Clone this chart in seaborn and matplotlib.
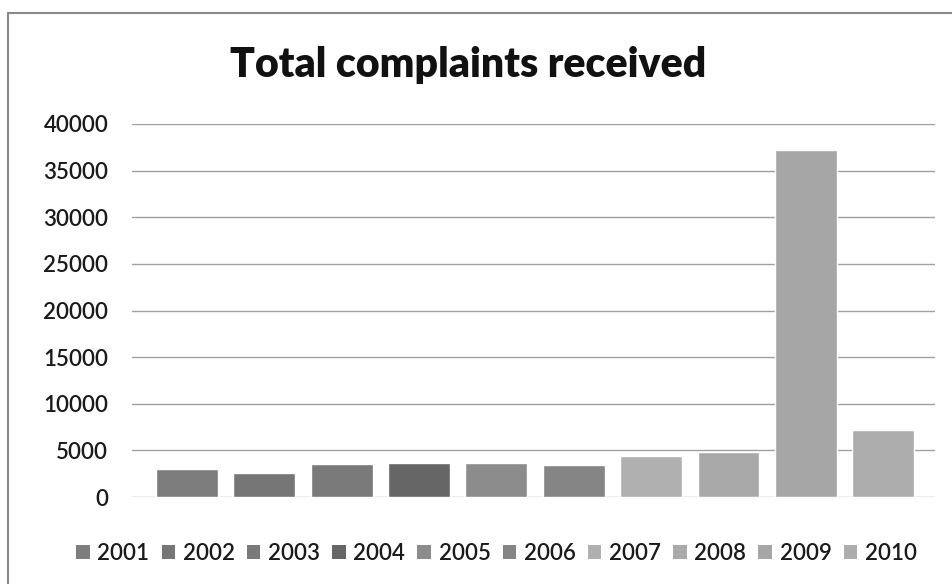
import matplotlib
matplotlib.use("Agg")
import matplotlib.pyplot as plt
from matplotlib.lines import Line2D
from matplotlib.patches import Patch
import seaborn as sns
import pandas as pd

years = ["2001", "2002", "2003", "2004", "2005", "2006", "2007", "2008", "2009", "2010"]
complaints = [3050, 2620, 3580, 3650, 3640, 3400, 4370, 4830, 37200, 7230]
bar_colors = ["#7d7d7d", "#767676", "#7a7a7a", "#666666", "#8c8c8c",
              "#858585", "#b0b0b0", "#a9a9a9", "#a6a6a6", "#adadad"]
y_ticks = [0, 5000, 10000, 15000, 20000, 25000, 30000, 35000, 40000]

df = pd.DataFrame({"year": years, "complaints": complaints})

sns.set_theme(style="white")
plt.rcParams["font.family"] = ["Lato", "DejaVu Sans"]

W, H = 953, 584
fig = plt.figure(figsize=(W / 100, H / 100), dpi=100)
fig.patch.set_facecolor("white")

left, right = 132 / W, 935 / W
bottom, top = 1 - 497 / H, 1 - 124 / H
ax = fig.add_axes([left, bottom, right - left, top - bottom])

sns.barplot(data=df, x="year", y="complaints", hue="year", palette=bar_colors,
            dodge=False, width=0.8, legend=False, ax=ax, saturation=1)

ax.set_ylim(0, 40000)
ax.set_xlim(-0.71, 9.67)
ax.set_yticks(y_ticks)
ax.set_yticklabels([str(v) for v in y_ticks], fontsize=16, color="#1a1a1a",
                   fontweight="semibold")
ax.set_xticks([])
ax.set_xlabel("")
ax.set_ylabel("")
ax.tick_params(axis="y", length=0, pad=17)
for s in ax.spines.values():
    s.set_visible(False)
ax.set_axisbelow(True)
ax.yaxis.grid(True, color="#a0a0a0", linewidth=1.0)

fig.text(0.491, 1 - 65 / H, "Total complaints received", ha="center", va="center",
         fontsize=29.5, fontweight="heavy", color="#111111")

handles = [Patch(facecolor=c, edgecolor="none") for c in bar_colors]
leg = fig.legend(handles, years, loc="center", bbox_to_anchor=(0.521, 1 - 553 / H),
                 ncol=10, frameon=False, fontsize=16, handlelength=0.6, handleheight=0.6,
                 handletextpad=0.35, columnspacing=0.55, labelcolor="#1a1a1a")
for t in leg.get_texts():
    t.set_fontweight("semibold")

# outer frame: top and left edges
fig.add_artist(Line2D([8 / W, 1], [1 - 13 / H, 1 - 13 / H], color="#888888", lw=1.5,
                      transform=fig.transFigure))
fig.add_artist(Line2D([8 / W, 8 / W], [0, 1 - 13 / H], color="#888888", lw=1.5,
                      transform=fig.transFigure))

fig.savefig("out.png", dpi=100)
